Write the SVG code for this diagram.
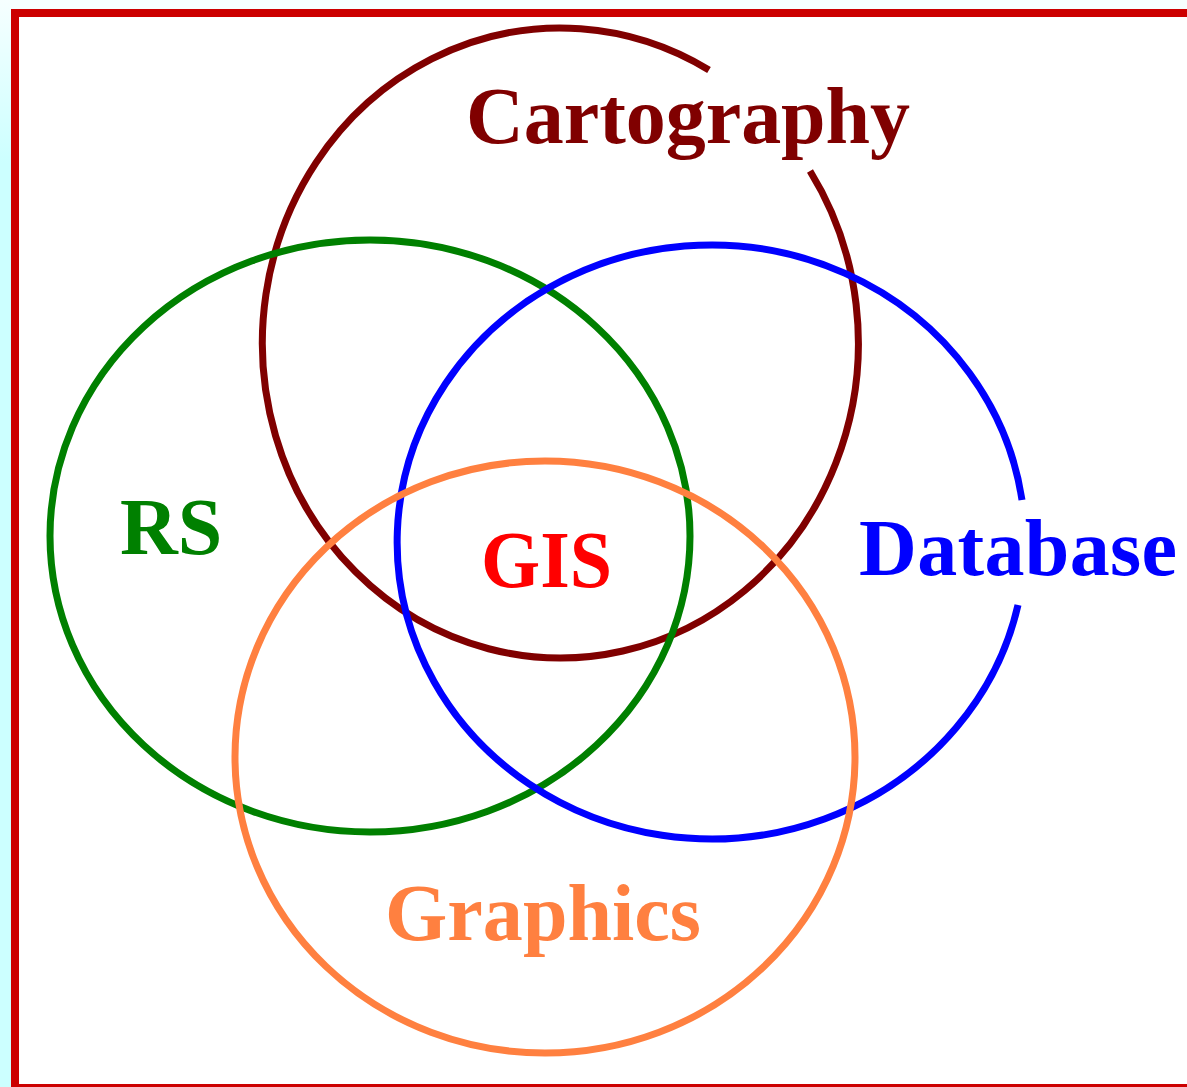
<svg xmlns="http://www.w3.org/2000/svg" width="1187" height="1087" viewBox="0 0 1187 1087">
  <defs>
    <linearGradient id="edge" x1="0" y1="0" x2="0" y2="1">
      <stop offset="0" stop-color="#f6ffff"/>
      <stop offset="0.15" stop-color="#ccffff"/>
      <stop offset="1" stop-color="#ccffff"/>
    </linearGradient>
  </defs>
  <style>
    .ring { fill: none; stroke-width: 7; }
    .lbl { font-family: "Liberation Serif", "Times New Roman", serif; font-weight: bold; font-size: 80px; }
  </style>
  <rect x="0" y="0" width="1187" height="1087" fill="#f6ffff"/>
  <rect x="0" y="0" width="12" height="1087" fill="url(#edge)"/>
  <rect x="15" y="13" width="1200" height="1075" fill="#ffffff" stroke="#cc0000" stroke-width="8"/>
  <g id="cartography">
    <path class="ring" stroke="#800000" d="M 810,171 A 298 315 0 1 1 709,70"/>
    <text class="lbl" fill="#800000" x="466" y="143" textLength="444" lengthAdjust="spacing">Cartography</text>
  </g>
  <g id="rs">
    <ellipse class="ring" stroke="#008000" cx="370" cy="536" rx="320" ry="296"/>
    <text class="lbl" fill="#008000" x="120" y="554">RS</text>
  </g>
  <g id="database">
    <path class="ring" stroke="#0000ff" d="M 1018,605 A 314 297 0 1 1 1022,500"/>
    <text class="lbl" fill="#0000ff" x="859" y="575" textLength="318" lengthAdjust="spacing">Database</text>
  </g>
  <g id="graphics">
    <ellipse class="ring" stroke="#ff8040" cx="545" cy="757" rx="310" ry="296"/>
    <text class="lbl" fill="#ff8040" x="385" y="940" textLength="316" lengthAdjust="spacing">Graphics</text>
  </g>
  <g id="gis">
    <text class="lbl" fill="#ff0000" x="481" y="587" textLength="131" lengthAdjust="spacingAndGlyphs">GIS</text>
  </g>
  <g id="connectors"/>
</svg>
